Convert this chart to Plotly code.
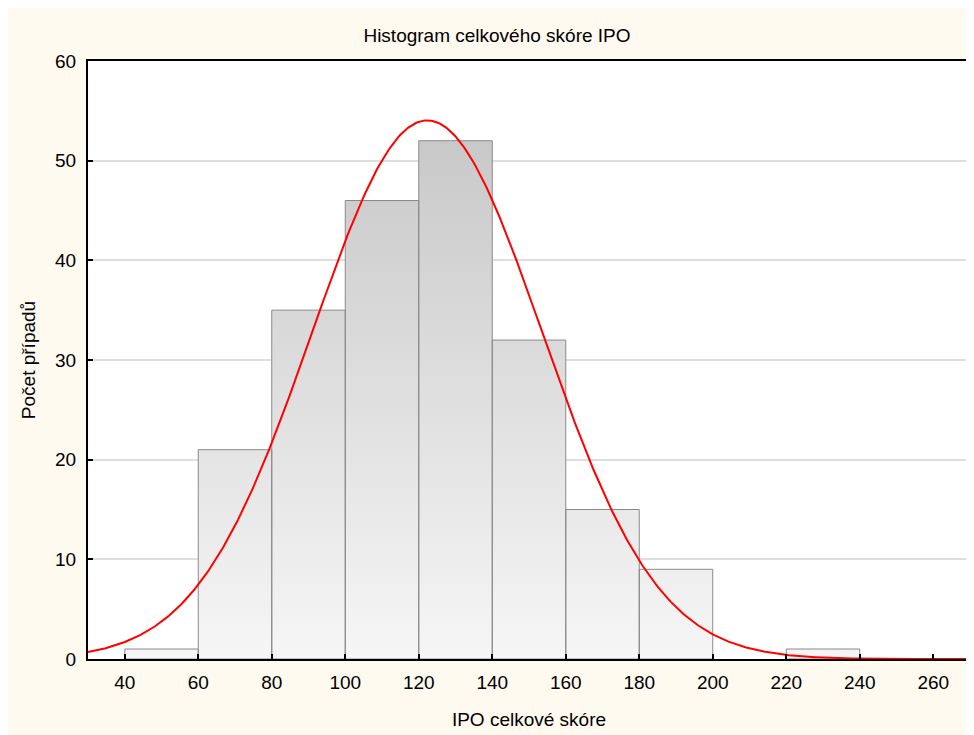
import numpy as np
import plotly.graph_objects as go

# ---- data ----
bin_left = [40, 60, 80, 100, 120, 140, 160, 180, 200, 220]
bin_right = [60, 80, 100, 120, 140, 160, 180, 200, 220, 240]
counts = [1, 21, 35, 46, 52, 32, 15, 9, 0, 1]
fit_mean = 122.3
fit_sd = 31.3
x_ticks = [40, 60, 80, 100, 120, 140, 160, 180, 200, 220, 240, 260]
y_ticks = [0, 10, 20, 30, 40, 50, 60]

title_text = "Histogram celkového skóre IPO"
x_title = "IPO celkové skóre"
y_title = "Počet případů"

FONT = "Liberation Sans, Arial, sans-serif"
CREAM = "#fffaf0"
FS = 19

# build bar outlines (closed polygons separated by None)
bx, by = [], []
for l, r, c in zip(bin_left, bin_right, counts):
    if c <= 0:
        continue
    bx += [l, l, r, r, l, None]
    by += [0, c, c, 0, 0, None]

n_total = sum(counts)
bw = bin_right[0] - bin_left[0]
xc = np.linspace(30, 270, 600)
yc = n_total * bw / (fit_sd * np.sqrt(2 * np.pi)) * np.exp(-0.5 * ((xc - fit_mean) / fit_sd) ** 2)

fig = go.Figure()
fig.add_trace(go.Scatter(
    x=bx, y=by, mode="lines", fill="toself",
    line=dict(color="#8a8a8a", width=1),
    fillgradient=dict(type="vertical", start=0, stop=60,
                      colorscale=[[0, "#f6f6f6"], [1, "#c2c2c2"]]),
    hoverinfo="skip", showlegend=False,
))
fig.add_trace(go.Scatter(
    x=xc, y=yc, mode="lines", line=dict(color="#ff0000", width=2),
    hoverinfo="skip", showlegend=False,
))

W, H = 966, 727
fig.update_layout(
    width=W, height=H,
    margin=dict(l=80, r=2, t=53, b=76),
    paper_bgcolor=CREAM, plot_bgcolor="white",
    font=dict(family=FONT, size=FS, color="black"),
    title=dict(text=title_text, x=(497 - 8) / W, xref="container", xanchor="center",
               y=1 - 27 / H, yref="container", yanchor="middle",
               font=dict(family=FONT, size=FS, color="black")),
    showlegend=False,
)
fig.update_xaxes(
    range=[30, 270], tickvals=x_ticks, ticks="inside", ticklen=5, tickwidth=1.5,
    tickcolor="black", showline=True, linecolor="black", linewidth=2, mirror=True,
    showgrid=False, zeroline=False, ticklabelstandoff=5,
    title=dict(text=x_title, standoff=21, font=dict(size=FS)),
    tickfont=dict(size=FS),
)
fig.update_yaxes(
    range=[0, 60], tickvals=y_ticks, ticks="inside", ticklen=5, tickwidth=1.5,
    tickcolor="black", showline=True, linecolor="black", linewidth=2, mirror=True,
    showgrid=True, gridcolor="#dedede", gridwidth=1.5, zeroline=False,
    ticklabelstandoff=6,
    title=dict(text=y_title, standoff=14, font=dict(size=FS)),
    tickfont=dict(size=FS),
)

fig.write_html("out.html")
